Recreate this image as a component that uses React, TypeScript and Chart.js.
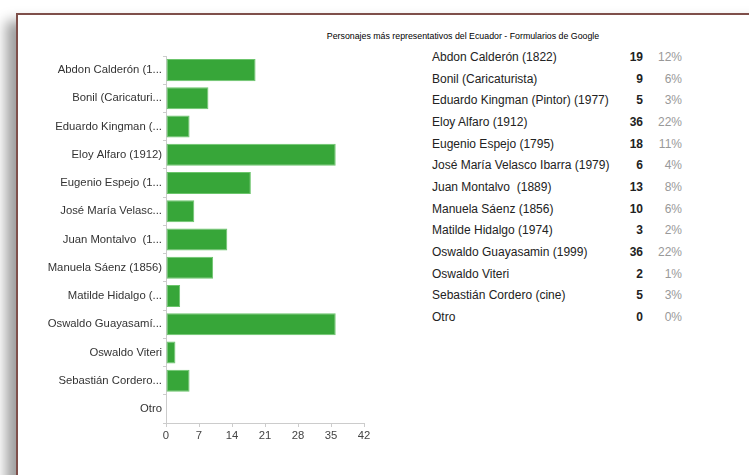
import React, { useEffect, useRef } from "react";
import { Chart, registerables } from "chart.js";

Chart.register(...registerables);

const axisLabels = [
  "Abdon Calderón (1...",
  "Bonil (Caricaturi...",
  "Eduardo Kingman (...",
  "Eloy Alfaro (1912)",
  "Eugenio Espejo (1...",
  "José María Velasc...",
  "Juan Montalvo  (1...",
  "Manuela Sáenz (1856)",
  "Matilde Hidalgo (...",
  "Oswaldo Guayasamí...",
  "Oswaldo Viteri",
  "Sebastián Cordero...",
  "Otro",
];

const tableNames = [
  "Abdon Calderón (1822)",
  "Bonil (Caricaturista)",
  "Eduardo Kingman (Pintor) (1977)",
  "Eloy Alfaro (1912)",
  "Eugenio Espejo (1795)",
  "José María Velasco Ibarra (1979)",
  "Juan Montalvo  (1889)",
  "Manuela Sáenz (1856)",
  "Matilde Hidalgo (1974)",
  "Oswaldo Guayasamin (1999)",
  "Oswaldo Viteri",
  "Sebastián Cordero (cine)",
  "Otro",
];

const counts = [19, 9, 5, 36, 18, 6, 13, 10, 3, 36, 2, 5, 0];
const percents = ["12%", "6%", "3%", "22%", "11%", "4%", "8%", "6%", "2%", "22%", "1%", "3%", "0%"];

const xMin = 0;
const xMax = 42;
const xStep = 7;

const title = "Personajes más representativos del Ecuador - Formularios de Google";

export default function App() {
  const canvasRef = useRef<HTMLCanvasElement | null>(null);

  useEffect(() => {
    if (!canvasRef.current) return;
    const chart = new Chart(canvasRef.current, {
      type: "bar",
      data: {
        labels: axisLabels,
        datasets: [
          {
            data: counts,
            backgroundColor: "#37a639",
            borderColor: "#6cc56c",
            borderWidth: 1,
            borderSkipped: false,
            barPercentage: 0.78,
            categoryPercentage: 1,
          },
        ],
      },
      options: {
        indexAxis: "y",
        animation: false,
        responsive: false,
        maintainAspectRatio: false,
        layout: { padding: { left: 0, top: 56, right: 56, bottom: 0 } },
        plugins: {
          legend: { display: false },
          tooltip: { enabled: false },
          title: { display: false },
        },
        scales: {
          x: {
            type: "linear",
            min: xMin,
            max: xMax,
            ticks: {
              stepSize: xStep,
              color: "#444",
              font: { family: "'Liberation Sans', Arial, sans-serif", size: 11.3 },
              padding: 2,
            },
            grid: { drawOnChartArea: false, drawTicks: true, tickLength: 4, color: "#ccc" },
            border: { display: true, color: "#ccc" },
            afterFit: (scale: any) => {
              scale.height = 52;
            },
          },
          y: {
            ticks: {
              color: "#333",
              font: { family: "'Liberation Sans', Arial, sans-serif", size: 11.3 },
              padding: 1,
              autoSkip: false,
            },
            grid: { drawOnChartArea: false, drawTicks: true, tickLength: 3, color: "#ccc" },
            border: { display: true, color: "#ccc" },
            afterFit: (scale: any) => {
              scale.width = 166;
            },
          },
        },
      },
    });
    return () => chart.destroy();
  }, []);

  const rowTop = 57;
  const rowStep = 21.67;

  return (
    <div
      style={{
        position: "fixed",
        left: 0,
        top: 0,
        width: 749,
        height: 475,
        background: "#fff",
        overflow: "hidden",
        fontFamily: "'Liberation Sans', Arial, sans-serif",
      }}
    >
      <div
        style={{
          position: "absolute",
          left: 16,
          top: 13,
          width: 800,
          height: 520,
          borderTop: "2px solid #7e4f4a",
          borderLeft: "2px solid #7e4f4a",
          boxShadow: "-10px 8px 12px rgba(0,0,0,0.38)",
          background: "#fff",
        }}
      />
      <div
        style={{
          position: "absolute",
          left: 463,
          top: 31,
          transform: "translateX(-50%)",
          fontSize: 8.8,
          color: "#000",
          whiteSpace: "nowrap",
          lineHeight: "10px",
        }}
      >
        {title}
      </div>
      <canvas
        ref={canvasRef}
        width={420}
        height={475}
        style={{ position: "absolute", left: 0, top: 0, width: 420, height: 475 }}
      />
      {tableNames.map((name, i) => (
        <React.Fragment key={i}>
          <div
            style={{
              position: "absolute",
              left: 432,
              top: rowTop + i * rowStep - 7,
              fontSize: 12,
              lineHeight: "14px",
              color: "#222",
              whiteSpace: "pre",
            }}
          >
            {name}
          </div>
          <div
            style={{
              position: "absolute",
              right: 749 - 643,
              top: rowTop + i * rowStep - 7,
              fontSize: 12,
              lineHeight: "14px",
              color: "#222",
              fontWeight: "bold",
              textAlign: "right",
            }}
          >
            {counts[i]}
          </div>
          <div
            style={{
              position: "absolute",
              right: 749 - 682,
              top: rowTop + i * rowStep - 7,
              fontSize: 12,
              lineHeight: "14px",
              color: "#999",
              textAlign: "right",
            }}
          >
            {percents[i]}
          </div>
        </React.Fragment>
      ))}
    </div>
  );
}
